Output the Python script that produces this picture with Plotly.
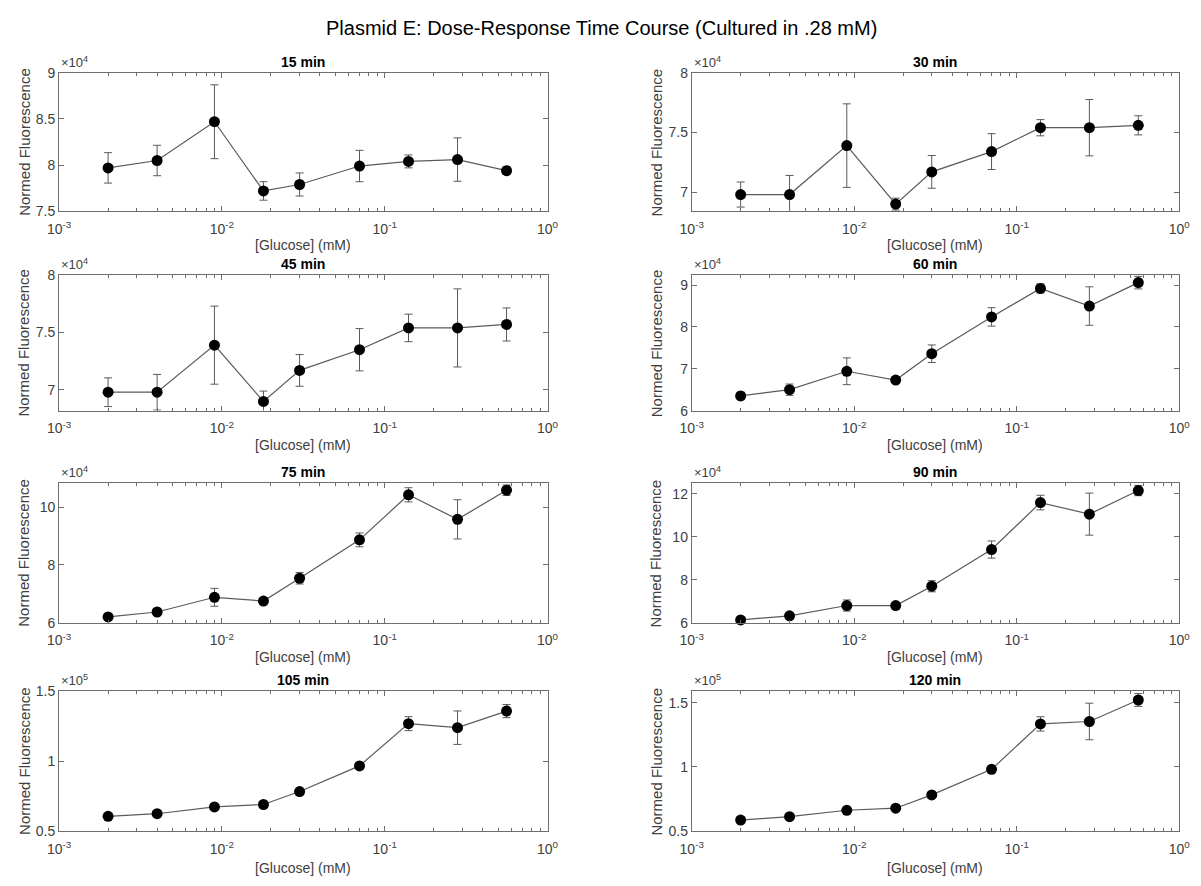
import plotly.graph_objects as go

# ---------------- data ----------------
glucose = [0.002, 0.004, 0.009, 0.018, 0.03, 0.07, 0.14, 0.28, 0.56]
titles = ["15 min", "30 min", "45 min", "60 min", "75 min", "90 min", "105 min", "120 min"]

# values shown in units of 10^exponent (as on the axes)
f15 = [7.97, 8.05, 8.47, 7.72, 7.79, 7.99, 8.04, 8.06, 7.94]
e15 = [0.165, 0.165, 0.40, 0.10, 0.125, 0.17, 0.07, 0.235, 0.04]
f30 = [6.98, 6.98, 7.39, 6.90, 7.17, 7.34, 7.54, 7.54, 7.56]
e30 = [0.105, 0.16, 0.35, 0.05, 0.137, 0.15, 0.068, 0.236, 0.08]
f45 = [6.98, 6.98, 7.39, 6.90, 7.17, 7.35, 7.54, 7.54, 7.57]
e45 = [0.125, 0.155, 0.34, 0.09, 0.138, 0.184, 0.12, 0.34, 0.144]
f60 = [6.35, 6.50, 6.94, 6.73, 7.36, 8.24, 8.92, 8.50, 9.06]
e60 = [0.09, 0.135, 0.32, 0.06, 0.21, 0.22, 0.11, 0.46, 0.15]
f75 = [6.20, 6.37, 6.88, 6.75, 7.54, 8.87, 10.43, 9.58, 10.59]
e75 = [0.10, 0.10, 0.31, 0.08, 0.20, 0.24, 0.245, 0.68, 0.18]
f90 = [6.13, 6.32, 6.80, 6.80, 7.70, 9.41, 11.60, 11.06, 12.16]
e90 = [0.08, 0.12, 0.26, 0.10, 0.26, 0.40, 0.34, 0.98, 0.24]
f105 = [0.604, 0.623, 0.672, 0.689, 0.782, 0.966, 1.269, 1.240, 1.359]
e105 = [0.010, 0.012, 0.015, 0.012, 0.012, 0.018, 0.050, 0.120, 0.047]
f120 = [0.584, 0.611, 0.661, 0.677, 0.781, 0.981, 1.336, 1.355, 1.523]
e120 = [0.012, 0.012, 0.015, 0.012, 0.015, 0.020, 0.056, 0.143, 0.050]

values = [f15, f30, f45, f60, f75, f90, f105, f120]
errors = [e15, e30, e45, e60, e75, e90, e105, e120]
exponents = [4, 4, 4, 4, 4, 4, 5, 5]
y_ranges = [[7.5, 9.0], [6.84, 8.0], [6.82, 8.0], [6.0, 9.24],
            [6.0, 10.83], [6.0, 12.5], [0.5, 1.5], [0.5, 1.59]]
y_ticks = [[7.5, 8, 8.5, 9], [7, 7.5, 8], [7, 7.5, 8], [6, 7, 8, 9],
           [6, 8, 10], [6, 8, 10, 12], [0.5, 1, 1.5], [0.5, 1, 1.5]]
x_tickvals = [0.001, 0.01, 0.1, 1]
x_ticktext = ["10<sup>-3</sup>", "10<sup>-2</sup>", "10<sup>-1</sup>", "10<sup>0</sup>"]

main_title = "Plasmid E: Dose-Response Time Course (Cultured in .28 mM)"
x_label = "[Glucose] (mM)"
y_label = "Normed Fluorescence"

# ---------------- layout geometry (pixels) ----------------
W, H = 1201, 886
col_px = [(48, 546), (693, 1190)]
row_px = [(66, 207), (272, 410), (484, 626), (696, 838)]
xlabel_gap = [24, 25, 25, 28]

FONT = "Liberation Sans, Arial, Helvetica, sans-serif"
LINE_C = "#5a5a5a"
AX_C = "#6e6e6e"
TXT_C = "#404040"

fig = go.Figure()
annotations = []

for i in range(8):
    r, c = divmod(i, 2)
    n = i + 1
    xa = "x" if n == 1 else f"x{n}"
    ya = "y" if n == 1 else f"y{n}"
    scale = 10 ** exponents[i]
    yv = [v * scale for v in values[i]]
    ev = [e * scale for e in errors[i]]
    fig.add_trace(go.Scatter(
        x=glucose, y=yv, xaxis=xa, yaxis=ya, mode="lines+markers",
        line=dict(color=LINE_C, width=1.2),
        marker=dict(color="black", size=11, line=dict(width=0)),
        error_y=dict(type="data", array=ev, visible=True, color=LINE_C,
                     thickness=1, width=4),
        showlegend=False, cliponaxis=False,
    ))
    x0, x1 = col_px[c]
    t0, b0 = row_px[r]
    xd = [x0 / W, x1 / W]
    yd = [1 - b0 / H, 1 - t0 / H]
    xkey = "xaxis" if n == 1 else f"xaxis{n}"
    ykey = "yaxis" if n == 1 else f"yaxis{n}"
    fig.update_layout(**{
        xkey: dict(
            domain=xd, anchor=ya, type="log", range=[-3, 0],
            tickvals=x_tickvals, ticktext=x_ticktext,
            ticks="inside", ticklen=5, tickcolor=AX_C, tickwidth=1,
            ticklabelstandoff=5,
            minor=dict(ticks="inside", ticklen=3, tickcolor=AX_C, dtick="D1", showgrid=False),
            showline=True, linecolor=AX_C, linewidth=1, mirror="ticks",
            showgrid=False, zeroline=False,
            tickfont=dict(family=FONT, size=14, color=TXT_C),
        ),
        ykey: dict(
            domain=yd, anchor=xa, range=[y_ranges[i][0] * scale, y_ranges[i][1] * scale],
            tickvals=[t * scale for t in y_ticks[i]],
            ticktext=[f"{t:g}" for t in y_ticks[i]],
            ticks="inside", ticklen=5, tickcolor=AX_C, tickwidth=1,
            showline=True, linecolor=AX_C, linewidth=1, mirror="ticks",
            showgrid=False, zeroline=False,
            tickfont=dict(family=FONT, size=14, color=TXT_C),
        ),
    })
    # subplot title
    annotations.append(dict(
        text=f"<b>{titles[i]}</b>", xref="paper", yref="paper",
        x=(xd[0] + xd[1]) / 2, y=yd[1] + 1 / H, xanchor="center", yanchor="bottom",
        showarrow=False, font=dict(family=FONT, size=14, color="black"),
    ))
    # exponent label
    annotations.append(dict(
        text=f"\u00d710<sup>{exponents[i]}</sup>", xref="paper", yref="paper",
        x=xd[0], y=yd[1] + 1 / H, xanchor="left", yanchor="bottom",
        showarrow=False, font=dict(family=FONT, size=13, color=TXT_C),
    ))
    # x label
    annotations.append(dict(
        text=x_label, xref="paper", yref="paper",
        x=(xd[0] + xd[1]) / 2, y=yd[0] - xlabel_gap[r] / H,
        xanchor="center", yanchor="top",
        showarrow=False, font=dict(family=FONT, size=14, color=TXT_C),
    ))
    # y label
    annotations.append(dict(
        text=y_label, xref="paper", yref="paper", textangle=-90,
        x=(x0 - 36) / W, y=(yd[0] + yd[1]) / 2, xanchor="center", yanchor="middle",
        showarrow=False, font=dict(family=FONT, size=15, color=TXT_C),
    ))

annotations.append(dict(
    text=main_title, xref="paper", yref="paper", x=0.5, y=1 - 20 / H,
    xanchor="center", yanchor="middle", showarrow=False,
    font=dict(family=FONT, size=20, color="black"),
))

fig.update_layout(
    width=W, height=H, margin=dict(l=0, r=0, t=0, b=0),
    paper_bgcolor="white", plot_bgcolor="white",
    annotations=annotations,
)

fig.write_html(
    "out.html",
    config={"displayModeBar": False},
    post_script="document.body.style.margin='0px';document.body.style.overflow='hidden';",
)
